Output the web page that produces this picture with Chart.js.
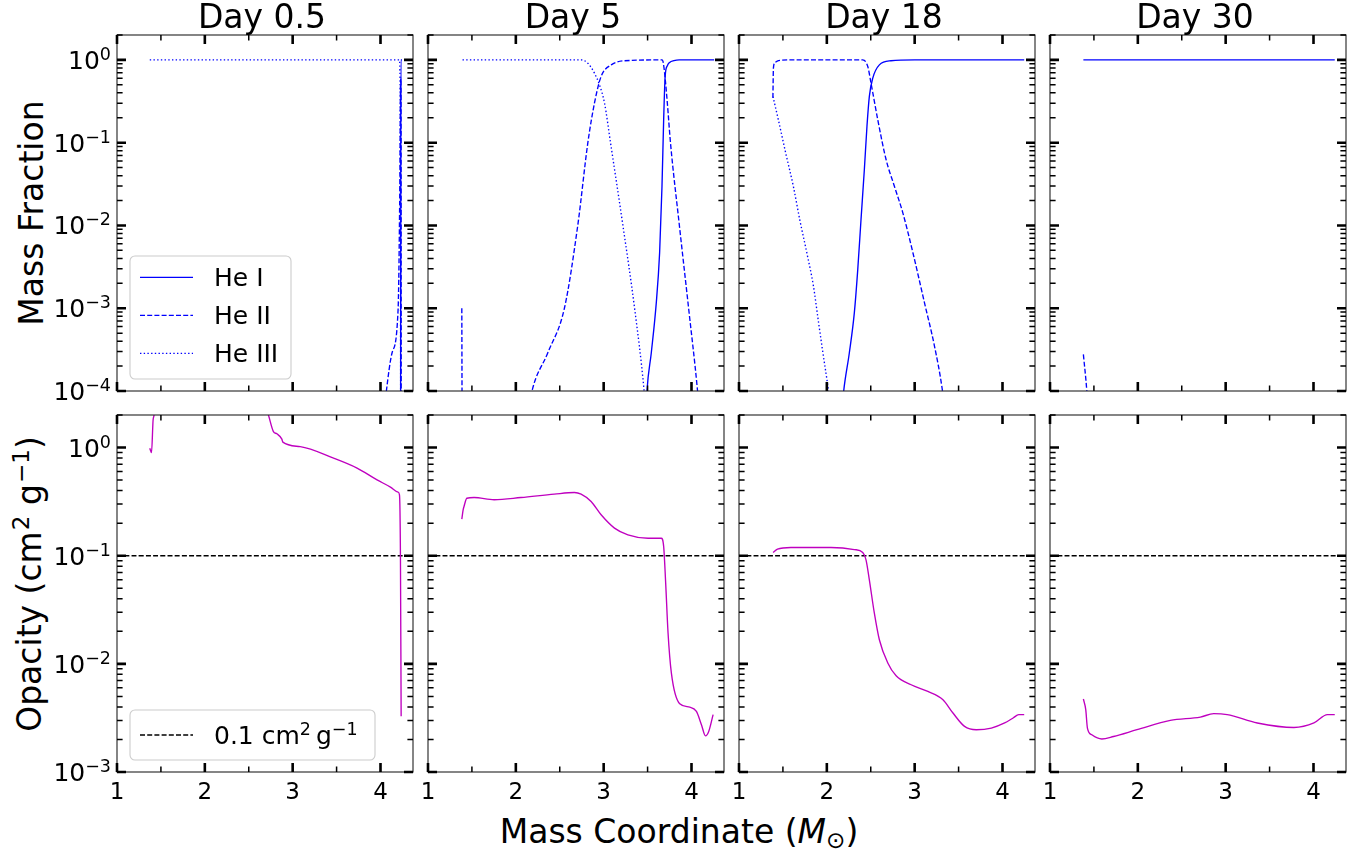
<!DOCTYPE html>
<html>
<head>
<meta charset="utf-8">
<script src="https://cdn.jsdelivr.net/npm/chart.js@4.4.1/dist/chart.umd.min.js"></script>
<style>
  html, body { margin: 0; padding: 0; background: #fff; }
  body { width: 1367px; height: 858px; overflow: hidden; position: relative; font-family: "DejaVu Sans", sans-serif; }
  canvas { position: absolute; left: 0; top: 0; }
  .lbl { position: absolute; font-family: "DejaVu Sans", sans-serif; font-size: 33px; line-height: 33px; color: #000; white-space: nowrap; }
  .rot { transform: translate(-50%, -50%) rotate(-90deg); }
  .hor { transform: translate(-50%, -50%); }
  .lbl sup { font-size: 0.7em; vertical-align: 0; position: relative; top: -0.5em; margin-left: 1px; }
  .lbl sub { font-size: 0.7em; vertical-align: 0; position: relative; top: 0.22em; }
</style>
</head>
<body>
<div id="ylabTop" class="lbl rot" style="left:31px; top:213px;">Mass Fraction</div>
<div id="ylabBot" class="lbl rot" style="left:31px; top:584px;">Opacity (cm<sup>2</sup> g<sup>&minus;1</sup>)</div>
<div id="xlab" class="lbl hor" style="left:679px; top:833px;">Mass Coordinate (<i>M</i><sub>&#8857;</sub>)</div>
<script>
// ---------------- data ----------------
const days = ['Day 0.5', 'Day 5', 'Day 18', 'Day 30'];
const xTicks = [1, 2, 3, 4];
const xMinorTicks = [1.5, 2.5, 3.5];
const yTicksTop = [1, 1e-1, 1e-2, 1e-3, 1e-4];
const yTicksBottom = [1, 1e-1, 1e-2, 1e-3];
const speciesLabels = ['He I', 'He II', 'He III'];
const kappaRefLabel = '0.1 cm² g⁻¹';
const kappaRefX = [1, 4.37];
const kappaRefY = [0.1, 0.1];

// Day 0.5 mass fractions
const d05_heI_x = [4.228, 4.232, 4.245];
const d05_heI_y = [1e-6, 1.0, 1.0];
const d05_heII_x = [4.0, 4.067, 4.132, 4.2, 4.22, 4.228, 4.233, 4.236];
const d05_heII_y = [2e-5, 1e-4, 2.9e-4, 9.5e-4, 3e-2, 0.5, 0.6, 1e-6];
const d05_heIII_x = [1.373, 4.215, 4.225, 4.231];
const d05_heIII_y = [1, 1, 0.3, 1e-6];

// Day 5 mass fractions
const d5_heI_x = [3.45, 3.493, 3.542, 3.599, 3.637, 3.664, 3.683, 3.70, 3.725, 3.751, 3.80, 3.86, 4.258];
const d5_heI_y = [1e-5, 1e-4, 2.88e-4, 1.16e-3, 4.68e-3, 2.95e-2, 1.89e-1, 6.31e-1, 8.5e-1, 9.33e-1, 9.8e-1, 1, 1];
const d5_heII_x = [1.385, 1.392, 1.40, 2.10, 2.184, 2.363, 2.553, 2.705, 2.82, 2.895, 2.971, 3.086, 3.238, 3.664, 3.676, 3.694, 3.725, 3.761, 3.862, 3.967, 4.067, 4.10];
const d5_heII_y = [1e-3, 1e-6, null, 3.16e-5, 1e-4, 2.88e-4, 1e-3, 1e-2, 1e-1, 3.0e-1, 6.31e-1, 8.71e-1, 9.77e-1, 1, 9.55e-1, 6.92e-1, 3.0e-1, 9.89e-2, 1.0e-2, 1.0e-3, 1.05e-4, 3.98e-5];
const d5_heIII_x = [1.393, 2.743, 2.82, 2.895, 2.952, 3.01, 3.078, 3.219, 3.352, 3.459, 3.50];
const d5_heIII_y = [1, 1, 0.912, 0.692, 0.501, 0.30, 0.1, 0.01, 0.001, 1.05e-4, 3e-5];

// Day 18 mass fractions
const d18_heI_x = [2.15, 2.192, 2.256, 2.313, 2.352, 2.389, 2.427, 2.457, 2.484, 2.523, 2.598, 2.73, 3.0, 4.247];
const d18_heI_y = [3.16e-5, 1e-4, 2.88e-4, 8.79e-4, 2.93e-3, 1.17e-2, 4.71e-2, 1.58e-1, 3.63e-1, 6.03e-1, 8.71e-1, 9.77e-1, 1, 1];
const d18_heII_x = [1.386, 1.392, 1.41, 1.45, 1.6, 2.409, 2.466, 2.503, 2.58, 2.675, 2.77, 2.866, 2.98, 3.112, 3.226, 3.314, 3.35];
const d18_heII_y = [0.35, 0.8, 0.93, 0.98, 1, 1, 0.832, 0.525, 0.189, 0.0622, 0.0296, 0.0141, 0.00468, 0.00116, 3.47e-4, 1.05e-4, 5e-5];
const d18_heIII_x = [1.387, 1.448, 1.532, 1.619, 1.692, 1.772, 1.848, 1.901, 1.955, 2.016, 2.05];
const d18_heIII_y = [0.361, 0.189, 0.0748, 0.0296, 0.0117, 0.00468, 0.00184, 7.31e-4, 2.90e-4, 1.05e-4, 5e-5];

// Day 30 mass fractions
const d30_heI_x = [1.38, 4.242];
const d30_heI_y = [1, 1];
const d30_heII_x = [1.38, 1.419, 1.43];
const d30_heII_y = [2.77e-4, 1e-4, 6.3e-5];
const d30_heIII_x = [];
const d30_heIII_y = [];

// Opacities
const d05_kap_x = [1.373, 1.393, 1.411, 1.422, 1.45, 1.8, 2.3, 2.6, 2.724, 2.781, 2.82, 2.877, 2.888, 3.086, 3.466, 3.733, 3.961, 4.113, 4.2, 4.216, 4.227, 4.235];
const d05_kap_y = [0.986, 0.90, 1.80, 2.0, 4.0, 10, 10, 4.0, 2.0, 1.406, 1.34, 1.197, 1.122, 1.021, 0.798, 0.646, 0.502, 0.431, 0.387, 0.366, 0.0984, 0.00327];
const d5_kap_x = [1.385, 1.40, 1.41, 1.442, 1.525, 1.753, 2.058, 2.438, 2.667, 2.743, 2.857, 2.971, 3.123, 3.276, 3.505, 3.656, 3.683, 3.706, 3.733, 3.771, 3.866, 3.98, 4.056, 4.113, 4.159, 4.196, 4.246];
const d5_kap_y = [0.218, 0.265, 0.285, 0.340, 0.345, 0.329, 0.345, 0.371, 0.384, 0.371, 0.317, 0.239, 0.180, 0.156, 0.145, 0.145, 0.122, 0.0558, 0.0193, 0.00822, 0.00428, 0.00398, 0.00363, 0.00274, 0.00216, 0.00237, 0.00339];
const d18_kap_x = [1.388, 1.438, 1.59, 2.047, 2.313, 2.409, 2.446, 2.484, 2.541, 2.598, 2.694, 2.789, 2.96, 3.15, 3.322, 3.436, 3.568, 3.702, 3.873, 4.025, 4.121, 4.185, 4.247];
const d18_kap_y = [0.107, 0.115, 0.119, 0.119, 0.114, 0.107, 0.0916, 0.0598, 0.0294, 0.0167, 0.0102, 0.00776, 0.00641, 0.00556, 0.00466, 0.00351, 0.00264, 0.00246, 0.00255, 0.00284, 0.00316, 0.00339, 0.00339];
const d30_kap_x = [1.38, 1.407, 1.426, 1.476, 1.59, 1.723, 1.99, 2.37, 2.712, 2.864, 3.017, 3.36, 3.777, 4.005, 4.158, 4.242];
const d30_kap_y = [0.00473, 0.00377, 0.00255, 0.00221, 0.00202, 0.00213, 0.00246, 0.0030, 0.00322, 0.00346, 0.00339, 0.00284, 0.00258, 0.00284, 0.00339, 0.00339];

// ---------------- layout & style ----------------
const X_MIN = 1, X_MAX = 4.37;
const Y_RANGES = [[1e-4, 2], [1e-3, 2]];
const PANEL_LEFTS = [117, 428, 739, 1050];
const PANEL_W = 296;
const ROW_TOPS = [35, 415];
const ROW_H = [356, 357];
const FIG_W = 1367, FIG_H = 858;
const FONT = '"DejaVu Sans", sans-serif';
const HE_COLOR = '#0000ff';
const KAP_COLOR = '#bf00bf';
const LW = 1.35;
const DASH = [5, 2.2];
const DOT = [1.4, 2.3];

const heSets = [
  [[d05_heI_x, d05_heI_y], [d05_heII_x, d05_heII_y], [d05_heIII_x, d05_heIII_y]],
  [[d5_heI_x, d5_heI_y], [d5_heII_x, d5_heII_y], [d5_heIII_x, d5_heIII_y]],
  [[d18_heI_x, d18_heI_y], [d18_heII_x, d18_heII_y], [d18_heIII_x, d18_heIII_y]],
  [[d30_heI_x, d30_heI_y], [d30_heII_x, d30_heII_y], [d30_heIII_x, d30_heIII_y]]
];
const kapSets = [[d05_kap_x, d05_kap_y], [d5_kap_x, d5_kap_y], [d18_kap_x, d18_kap_y], [d30_kap_x, d30_kap_y]];

function series(xs, ys) { return xs.map((x, i) => ({ x: x, y: ys[i] })); }

function drawRich(ctx, parts, x, y, align, size) {
  let total = 0; const widths = [];
  for (const p of parts) {
    ctx.font = (p.i ? 'italic ' : '') + (size * (p.s || 1)) + 'px ' + FONT;
    const w = ctx.measureText(p.t).width; widths.push(w); total += w;
  }
  let cx = align === 'right' ? x - total : (align === 'center' ? x - total / 2 : x);
  ctx.textAlign = 'left'; ctx.textBaseline = 'alphabetic';
  parts.forEach((p, i) => {
    ctx.font = (p.i ? 'italic ' : '') + (size * (p.s || 1)) + 'px ' + FONT;
    ctx.fillText(p.t, cx, y - (p.r || 0) * size);
    cx += widths[i];
  });
}

function expParts(v) {
  const e = Math.round(Math.log10(v));
  const s = e < 0 ? '\u2212' + (-e) : String(e);
  return [{ t: '10' }, { t: s, s: 0.7, r: 0.36 }];
}

const decor = {
  id: 'decor',
  afterDraw(chart, args, o) {
    const ctx = chart.ctx, a = chart.chartArea, xs = chart.scales.x, ys = chart.scales.y;
    ctx.save();
    ctx.strokeStyle = '#222'; ctx.lineWidth = 1.1; ctx.setLineDash([]);
    ctx.strokeRect(a.left, a.top, a.right - a.left, a.bottom - a.top);
    ctx.strokeStyle = '#000'; ctx.lineCap = 'butt';
    const MAJ = { len: 9, w: 2.6 }, MIN = { len: 5.6, w: 1.5 };
    const xt = (v, st) => {
      const px = xs.getPixelForValue(v);
      ctx.lineWidth = st.w; ctx.beginPath();
      ctx.moveTo(px, a.bottom); ctx.lineTo(px, a.bottom - st.len);
      ctx.moveTo(px, a.top); ctx.lineTo(px, a.top + st.len);
      ctx.stroke();
    };
    const yt = (v, st) => {
      const py = ys.getPixelForValue(v);
      ctx.lineWidth = st.w; ctx.beginPath();
      ctx.moveTo(a.left, py); ctx.lineTo(a.left + st.len, py);
      ctx.moveTo(a.right, py); ctx.lineTo(a.right - st.len, py);
      ctx.stroke();
    };
    xMinorTicks.forEach(v => xt(v, MIN));
    xTicks.forEach(v => xt(v, MAJ));
    const yMin = ys.min, yMax = ys.max;
    for (let e = Math.floor(Math.log10(yMin)); e <= Math.ceil(Math.log10(yMax)); e++) {
      for (let k = 2; k <= 9; k++) {
        const v = k * Math.pow(10, e);
        if (v >= yMin * 0.999 && v <= yMax * 1.001) yt(v, MIN);
      }
    }
    o.yTicks.forEach(v => yt(v, MAJ));
    ctx.fillStyle = '#000';
    if (o.showX) {
      ctx.font = '23px ' + FONT; ctx.textAlign = 'center'; ctx.textBaseline = 'alphabetic';
      xTicks.forEach(v => ctx.fillText(String(v), xs.getPixelForValue(v), a.bottom + 27));
    }
    if (o.showY) {
      o.yTicks.forEach(v => drawRich(ctx, expParts(v), a.left - 6, ys.getPixelForValue(v) + 9, 'right', 25));
    }
    if (o.title) {
      ctx.font = '33px ' + FONT; ctx.textAlign = 'center'; ctx.textBaseline = 'alphabetic';
      ctx.fillText(o.title, (a.left + a.right) / 2 - 3, a.top - 7);
    }
    if (o.legend) {
      const lg = o.legend;
      const bx = a.left + 13, bw = lg.w, bh = lg.h, by = a.bottom - 12 - bh;
      ctx.beginPath(); ctx.roundRect(bx, by, bw, bh, 5);
      ctx.fillStyle = 'rgba(255,255,255,0.8)'; ctx.fill();
      ctx.strokeStyle = '#cccccc'; ctx.lineWidth = 1.1; ctx.stroke();
      chart.data.datasets.filter(d => d.inLegend).forEach((d, i) => {
        const ry = by + lg.first + i * 38;
        ctx.strokeStyle = d.borderColor; ctx.lineWidth = d.borderWidth;
        ctx.setLineDash(d.borderDash || []);
        ctx.beginPath(); ctx.moveTo(bx + 10, ry); ctx.lineTo(bx + 63, ry); ctx.stroke();
        ctx.setLineDash([]);
        ctx.fillStyle = '#000';
        const parts = d.richLabel || [{ t: d.label }];
        drawRich(ctx, parts, bx + 84, ry + 9.1, 'left', 25);
      });
    }
    ctx.restore();
  }
};

for (let r = 0; r < 2; r++) {
  for (let c = 0; c < 4; c++) {
    const cv = document.createElement('canvas');
    cv.width = FIG_W; cv.height = FIG_H;
    document.body.appendChild(cv);
    const L = PANEL_LEFTS[c], T = ROW_TOPS[r], W = PANEL_W, H = ROW_H[r];
    let datasets;
    if (r === 0) {
      const styles = [[], DASH, DOT];
      datasets = heSets[c].map((s, k) => ({
        label: speciesLabels[k], data: series(s[0], s[1]),
        borderColor: HE_COLOR, borderWidth: LW, borderDash: styles[k], inLegend: true,
        cubicInterpolationMode: 'monotone'
      }));
    } else {
      datasets = [
        { label: 'opacity', data: series(kapSets[c][0], kapSets[c][1]), borderColor: KAP_COLOR, borderWidth: LW,
          cubicInterpolationMode: 'monotone' },
        { label: kappaRefLabel, data: series(kappaRefX, kappaRefY), borderColor: '#000', borderWidth: LW, borderDash: DASH, inLegend: true,
          richLabel: [{ t: '0.1 cm' }, { t: '2', s: 0.7, r: 0.36 }, { t: '\u2009g' }, { t: '\u22121', s: 0.7, r: 0.36 }] }
      ];
    }
    new Chart(cv, {
      type: 'line',
      data: { datasets: datasets },
      options: {
        responsive: false, animation: false, devicePixelRatio: 1,
        layout: { padding: { left: L, top: T, right: FIG_W - L - W, bottom: FIG_H - T - H } },
        elements: { point: { radius: 0 }, line: { tension: 0.4, fill: false } },
        scales: {
          x: { type: 'linear', display: false, min: X_MIN, max: X_MAX,
               afterBuildTicks: s => { s.min = X_MIN; s.max = X_MAX; } },
          y: { type: 'logarithmic', display: false, min: Y_RANGES[r][0], max: Y_RANGES[r][1],
               afterBuildTicks: s => { s.min = Y_RANGES[r][0]; s.max = Y_RANGES[r][1]; } }
        },
        plugins: {
          legend: { display: false }, title: { display: false }, tooltip: { enabled: false },
          decor: {
            row: r, col: c,
            yTicks: r === 0 ? yTicksTop : yTicksBottom,
            showX: r === 1, showY: c === 0,
            title: r === 0 ? days[c] : null,
            legend: c === 0 ? (r === 0 ? { w: 161, h: 123, first: 21.3 } : { w: 245, h: 50, first: 25 }) : null
          }
        }
      },
      plugins: [decor]
    });
  }
}
</script>
</body>
</html>
